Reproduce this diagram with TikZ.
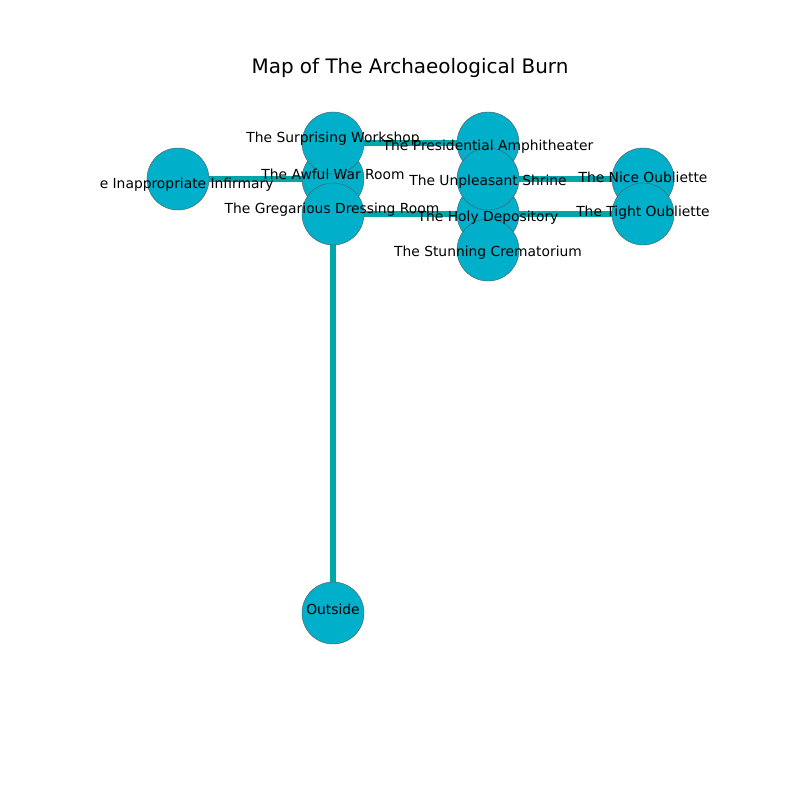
\documentclass[tikz,border=0pt]{standalone}
\usepackage{fontspec}
\setmainfont{DejaVu Sans}
\usetikzlibrary{backgrounds}
\definecolor{RoomClr}{RGB}{0,176,202}
\definecolor{PassageClr}{RGB}{0,166,170}

\begin{document}
\begin{tikzpicture}[x=0.01in,y=-0.01in,
  room/.style={circle,draw=black!65,line width=0.3pt,fill=RoomClr,minimum size=0.62in,inner sep=0pt},
  passage/.style={line width=4pt,color=PassageClr},
  roomname/.style={font=\fontsize{10}{12}\selectfont,inner sep=0pt}]
\useasboundingbox (0,0) rectangle (800,800);

\node (title) at (410,68) {\fontsize{14.4}{17}\selectfont Map of The Archaeological Burn};

% rooms
\foreach \n/\x/\y in {infirm/178/179, awful/333/179, surp/333/143, greg/333/214,
    pres/488/143, holy/488/214, shrine/488/179, crem/488/250,
    nice/643/179, tight/643/214, out/333/613}
  \node[room] (\n) at (\x,\y) {};

% passages
\begin{scope}[on background layer]
\draw[passage] (surp.center) -- (pres.center);
\draw[passage] (infirm.center) -- (awful.center);
\draw[passage] (shrine.center) -- (nice.center);
\draw[passage] (greg.center) -- (holy.center);
\draw[passage] (holy.center) -- (tight.center);
\draw[passage] (greg.center) -- (out.center);
\end{scope}

% names
\begin{scope}
\clip (100,96) rectangle (720,704);
\foreach \n/\x/\y/\t in {surp/333/139/The Surprising Workshop,
    pres/488/147/The Presidential Amphitheater,
    awful/333/174/The Awful War Room,
    infirm/178/185/The Inappropriate Infirmary,
    shrine/488/182/The Unpleasant Shrine,
    nice/643/177/The Nice Oubliette,
    greg/332/210/The Gregarious Dressing Room,
    holy/488/218/The Holy Depository,
    tight/643/213/The Tight Oubliette,
    crem/488/253/The Stunning Crematorium,
    out/333/609/Outside}
  \node[roomname] (name-\n) at (\x,\y) {\t};
\end{scope}
\end{tikzpicture}
\end{document}
